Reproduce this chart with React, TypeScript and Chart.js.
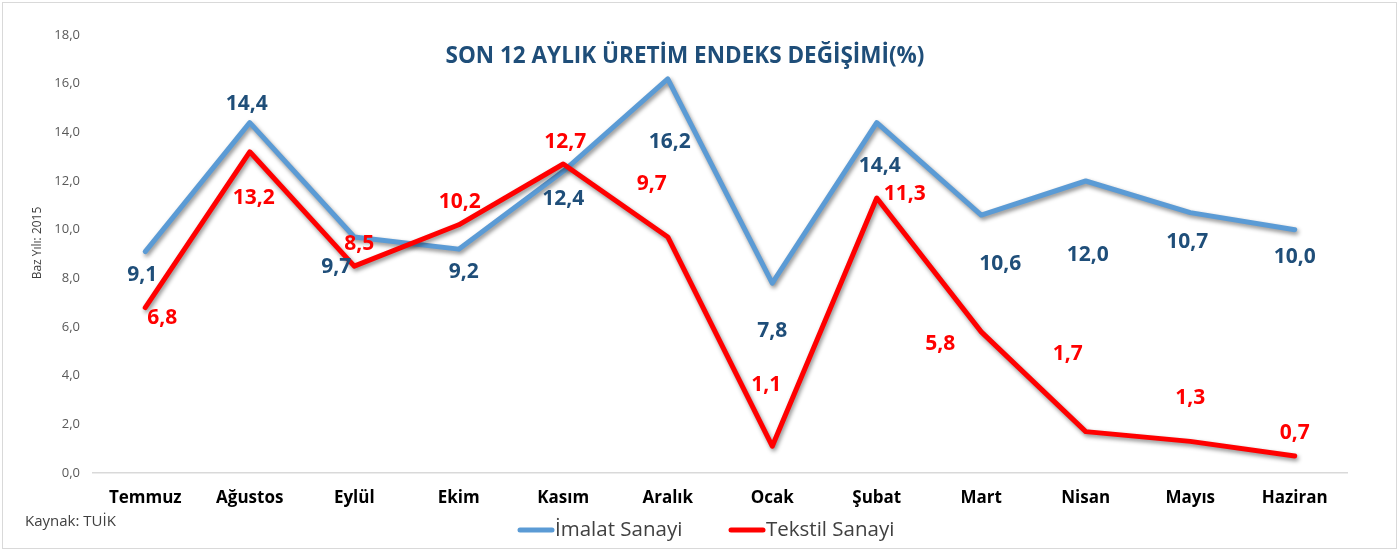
import React, { useEffect, useRef } from "react";
import { Chart, registerables } from "chart.js";

Chart.register(...registerables);

const categories = ["Temmuz", "Ağustos", "Eylül", "Ekim", "Kasım", "Aralık", "Ocak", "Şubat", "Mart", "Nisan", "Mayıs", "Haziran"];
const imalatSanayi = [9.1, 14.4, 9.7, 9.2, 12.4, 16.2, 7.8, 14.4, 10.6, 12.0, 10.7, 10.0];
const tekstilSanayi = [6.8, 13.2, 8.5, 10.2, 12.7, 9.7, 1.1, 11.3, 5.8, 1.7, 1.3, 0.7];
const seriesNames = ["İmalat Sanayi", "Tekstil Sanayi"];
const yMin = 0;
const yMax = 18;
const yStep = 2;
const titleText = "SON 12 AYLIK ÜRETİM ENDEKS DEĞİŞİMİ(%)";
const yAxisTitle = "Baz Yılı: 2015";
const sourceText = "Kaynak: TUİK";

// label placement offsets (style only), [dx, dy] in px from the point
const imalatLabelOffsets = [[-3, 23], [-3, -19], [-18, 30], [5, 23], [0, 28], [2, 63], [0, 48], [3, 43], [19, 49], [2, 74], [-3, 29], [0, 27]];
const tekstilLabelOffsets = [[17, 10], [4, 46], [5, -22], [1, -23], [2, -22], [-16, -53], [-6, -61], [28, -4], [-41, 12], [-18, -78], [0, -43], [0, -23]];

const BLUE = "#5B9BD5";
const RED = "#FF0000";
const DARK_BLUE = "#1F4E79";
const FONT = "'Open Sans', 'DejaVu Sans', sans-serif";

const fmt = (v: number) => v.toFixed(1).replace(".", ",");

const decorPlugin = {
  id: "decor",
  beforeDraw(chart: any) {
    const ctx = chart.ctx;
    ctx.save();
    ctx.fillStyle = "#ffffff";
    ctx.fillRect(0, 0, chart.width, chart.height);
    ctx.strokeStyle = "#D9D9D9";
    ctx.lineWidth = 1;
    ctx.strokeRect(2.5, 2.5, chart.width - 6, chart.height - 5);
    ctx.restore();
  },
  beforeDatasetsDraw(chart: any) {
    const ctx = chart.ctx;
    ctx.save();
    ctx.shadowColor = "rgba(0,0,0,0.45)";
    ctx.shadowBlur = 4;
    ctx.shadowOffsetX = 1.5;
    ctx.shadowOffsetY = 2.5;
  },
  afterDatasetsDraw(chart: any) {
    const ctx = chart.ctx;
    ctx.restore();
    ctx.save();
    ctx.textAlign = "center";
    ctx.textBaseline = "middle";
    ctx.font = `bold 21px ${FONT}`;
    const offsets = [imalatLabelOffsets, tekstilLabelOffsets];
    const colors = [DARK_BLUE, RED];
    chart.data.datasets.forEach((ds: any, di: number) => {
      const meta = chart.getDatasetMeta(di);
      ctx.fillStyle = colors[di];
      meta.data.forEach((pt: any, i: number) => {
        const [dx, dy] = offsets[di][i];
        ctx.fillText(fmt(ds.data[i]), pt.x + dx, pt.y + dy);
      });
    });
    ctx.restore();
  },
  afterDraw(chart: any) {
    const ctx = chart.ctx;
    ctx.save();
    // title
    ctx.fillStyle = DARK_BLUE;
    ctx.font = `bold 22.5px ${FONT}`;
    ctx.textAlign = "center";
    ctx.textBaseline = "middle";
    ctx.fillText(titleText, 685, 57);
    // y axis title
    ctx.save();
    ctx.translate(38, 243);
    ctx.rotate(-Math.PI / 2);
    ctx.fillStyle = "#404040";
    ctx.font = `12px ${FONT}`;
    ctx.fillText(yAxisTitle, 0, 0);
    ctx.restore();
    // source
    ctx.textAlign = "left";
    ctx.fillStyle = "#404040";
    ctx.font = `15px ${FONT}`;
    ctx.fillText(sourceText, 25, 522);
    // legend
    const legendColors = [BLUE, RED];
    const legendX = [518, 729];
    ctx.font = `20.5px ${FONT}`;
    seriesNames.forEach((name, i) => {
      ctx.strokeStyle = legendColors[i];
      ctx.lineWidth = 5;
      ctx.lineCap = "round";
      ctx.beginPath();
      ctx.moveTo(legendX[i] + 2, 530);
      ctx.lineTo(legendX[i] + 34, 530);
      ctx.stroke();
      ctx.fillStyle = "#404040";
      ctx.fillText(name, legendX[i] + 37, 530);
    });
    ctx.restore();
  },
};

export default function App() {
  const ref = useRef<HTMLCanvasElement | null>(null);
  useEffect(() => {
    if (!ref.current) return;
    const chart = new Chart(ref.current, {
      type: "line",
      data: {
        labels: categories,
        datasets: [
          {
            label: seriesNames[0],
            data: imalatSanayi,
            borderColor: BLUE,
            backgroundColor: BLUE,
            borderWidth: 5,
            pointRadius: 0,
            tension: 0,
            borderCapStyle: "round",
            borderJoinStyle: "round",
            order: 1,
          },
          {
            label: seriesNames[1],
            data: tekstilSanayi,
            borderColor: RED,
            backgroundColor: RED,
            borderWidth: 5,
            pointRadius: 0,
            tension: 0,
            borderCapStyle: "round",
            borderJoinStyle: "round",
            order: 0,
          },
        ],
      },
      options: {
        animation: false,
        responsive: false,
        maintainAspectRatio: false,
        layout: { padding: { top: 35, right: 53, bottom: 0, left: 0 } },
        plugins: {
          legend: { display: false },
          title: { display: false },
          tooltip: { enabled: false },
        },
        scales: {
          x: {
            offset: true,
            grid: { display: false, drawTicks: false },
            border: { display: true, color: "#D9D9D9", width: 1.5 },
            ticks: {
              padding: 15,
              color: "#000000",
              font: { family: FONT, size: 17, weight: "bold" },
              maxRotation: 0,
              autoSkip: false,
            },
            afterFit: (s: any) => {
              s.height = 78;
            },
          },
          y: {
            min: yMin,
            max: yMax,
            grid: { display: false, drawTicks: false },
            border: { display: false },
            ticks: {
              stepSize: yStep,
              padding: 13,
              color: "#595959",
              font: { family: FONT, size: 13 },
              callback: (v: any) => fmt(Number(v)),
            },
            afterFit: (s: any) => {
              s.width = 93;
            },
          },
        },
      },
      plugins: [decorPlugin],
    });
    return () => chart.destroy();
  }, []);
  return (
    <div style={{ position: "absolute", left: 0, top: 0, width: 1400, height: 551 }}>
      <canvas ref={ref} width={1400} height={551} style={{ width: 1400, height: 551, display: "block" }} />
    </div>
  );
}
